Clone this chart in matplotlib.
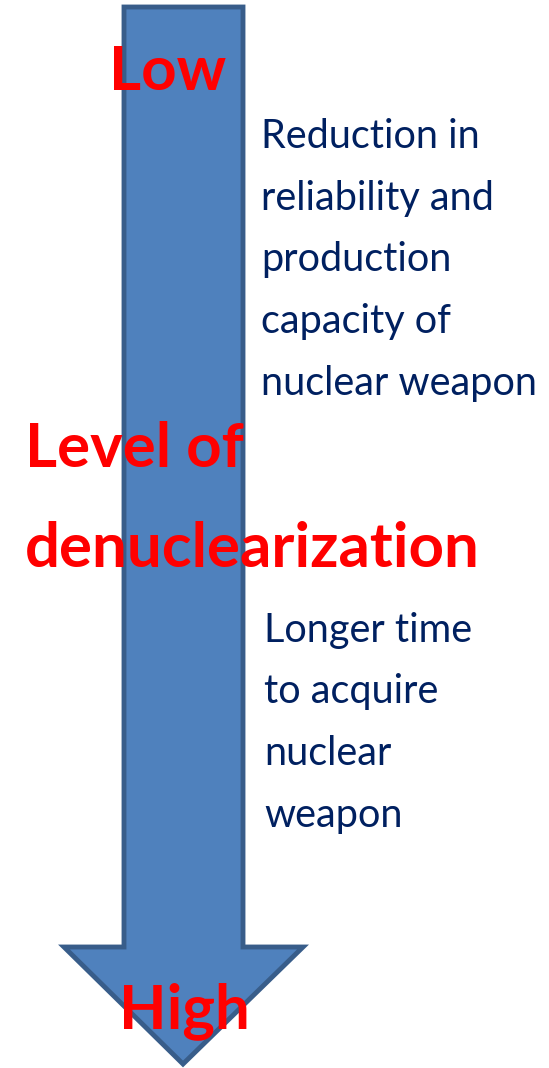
"""
Down arrow diagram: level of denuclearization
"""

import matplotlib
matplotlib.use("Agg")
import matplotlib.pyplot as plt
from matplotlib.patches import Polygon

# arrow outline in pixel coordinates (x, y), y grows downwards
arrow_x = [124, 243, 243, 303, 183, 64, 124]
arrow_y = [7, 7, 947, 947, 1064, 947, 947]

# red labels: text, x, baseline y, horizontal alignment
red_labels = ["Low", "Level of", "denuclearization", "High"]
red_x = [168, 25, 25, 184]
red_y = [90, 467, 567, 1028]
red_ha = ["center", "left", "left", "center"]

# blue notes
note1_lines = ["Reduction in", "reliability and", "production",
               "capacity of", "nuclear weapon"]
note1_y = [148, 210, 271, 333, 395]
note1_x = 261

note2_lines = ["Longer time", "to acquire", "nuclear", "weapon"]
note2_y = [642, 703, 765, 827]
note2_x = 264

FILL = "#4F81BD"
EDGE = "#385D8A"
RED = "#FF0000"
NAVY = "#002060"
FONT = ["Lato", "DejaVu Sans"]


def main():
    fig = plt.figure(figsize=(5.49, 10.68), dpi=100)
    axis = fig.add_axes([0, 0, 1, 1])
    axis.set_xlim(0, 549)
    axis.set_ylim(1068, 0)
    axis.axis("off")

    axis.add_patch(Polygon(list(zip(arrow_x, arrow_y)), closed=True,
                           facecolor=FILL, edgecolor=EDGE, linewidth=3.5,
                           joinstyle="miter"))

    for text, y in zip(note1_lines, note1_y):
        axis.text(note1_x, y, text, color=NAVY, fontsize=28.5, family=FONT,
                  ha="left", va="baseline")
    for text, y in zip(note2_lines, note2_y):
        axis.text(note2_x, y, text, color=NAVY, fontsize=28.5, family=FONT,
                  ha="left", va="baseline")

    for text, x, y, ha in zip(red_labels, red_x, red_y, red_ha):
        axis.text(x, y, text, color=RED, fontsize=44.5, fontweight="bold",
                  family=FONT, ha=ha, va="baseline")

    fig.savefig("out.png", dpi=100)


if __name__ == "__main__":
    main()
